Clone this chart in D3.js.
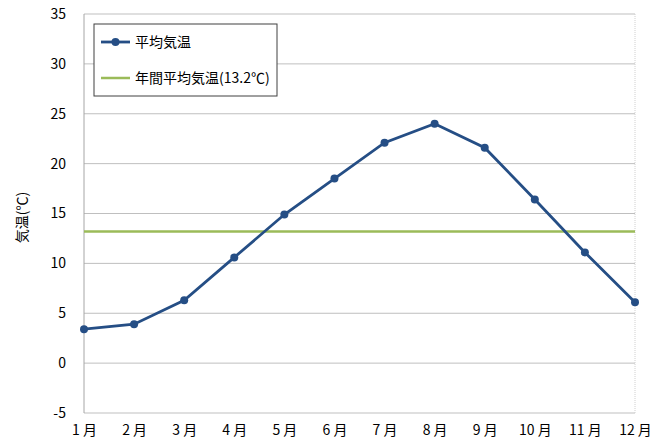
<!DOCTYPE html>
<html lang="ja">
<head>
<meta charset="UTF-8">
<title>平均気温</title>
<script src="https://d3js.org/d3.v7.min.js"></script>
<style>
  body { margin: 0; background: #fff; font-family: "Noto Sans CJK JP", "Noto Sans", sans-serif; }
  svg text { fill: #000; }
</style>
</head>
<body>
<svg width="651" height="443"></svg>
<script>
// データ
const months = ["1月", "2月", "3月", "4月", "5月", "6月", "7月", "8月", "9月", "10月", "11月", "12月"];
const avgTemp = [3.4, 3.9, 6.3, 10.6, 14.9, 18.5, 22.1, 24.0, 21.6, 16.4, 11.1, 6.1];
const annualMean = 13.2;
const yTicks = [-5, 0, 5, 10, 15, 20, 25, 30, 35];
const seriesNames = ["平均気温", "年間平均気温(13.2℃)"];

const svg = d3.select("svg"),
      margin = {top: 14, right: 16, bottom: 30, left: 84},
      width = +svg.attr("width") - margin.left - margin.right,
      height = +svg.attr("height") - margin.top - margin.bottom;

const g = svg.append("g").attr("transform", `translate(${margin.left},${margin.top})`);

const x = d3.scalePoint().domain(months).range([0, width]);
const y = d3.scaleLinear().domain([-5, 35]).range([height, 0]);

// グリッド線
g.append("g")
  .selectAll("line")
  .data(yTicks)
  .enter().append("line")
  .attr("x1", 0).attr("x2", width)
  .attr("y1", d => y(d)).attr("y2", d => y(d))
  .attr("stroke", "#bfbfbf").attr("stroke-width", 1);

// 枠線
g.append("line").attr("x1", width).attr("x2", width).attr("y1", 0).attr("y2", height)
  .attr("stroke", "#d0d0d0").attr("stroke-dasharray", "1,1");
g.append("line").attr("x1", 0).attr("x2", 0).attr("y1", 0).attr("y2", height)
  .attr("stroke", "#a6a6a6");

// y軸
const yAxis = g.append("g")
  .call(d3.axisLeft(y).tickValues(yTicks).tickSize(0).tickPadding(18).tickFormat(d => String(d)));
yAxis.select(".domain").remove();
yAxis.selectAll("text").attr("font-size", "14px").attr("font-family", "Noto Sans CJK JP");

// x軸
const xAxis = g.append("g")
  .attr("transform", `translate(0,${height})`)
  .call(d3.axisBottom(x).tickSize(0).tickPadding(12).tickFormat(d => d.replace("月", " 月")));
xAxis.select(".domain").remove();
xAxis.selectAll("text").attr("font-size", "14px").attr("font-family", "Noto Sans CJK JP")
  .style("white-space", "pre");

// y軸ラベル
svg.append("text")
  .attr("transform", `translate(27,${margin.top + y(14.6)}) rotate(-90)`)
  .attr("text-anchor", "middle")
  .attr("font-size", "14px")
  .text("気温(℃)");

// 年間平均線
g.append("line")
  .attr("x1", 0).attr("x2", width)
  .attr("y1", y(annualMean)).attr("y2", y(annualMean))
  .attr("stroke", "#9bbb59").attr("stroke-width", 2.5);

// 平均気温の折れ線
const line = d3.line().x((d, i) => x(months[i])).y(d => y(d));
g.append("path")
  .datum(avgTemp)
  .attr("fill", "none")
  .attr("stroke", "#254e85")
  .attr("stroke-width", 2.8)
  .attr("d", line);

g.selectAll(".dot")
  .data(avgTemp)
  .enter().append("circle")
  .attr("class", "dot")
  .attr("cx", (d, i) => x(months[i]))
  .attr("cy", d => y(d))
  .attr("r", 4)
  .attr("fill", "#254e85");

// 凡例
const lg = svg.append("g").attr("transform", "translate(94,24)");
lg.append("rect")
  .attr("width", 183).attr("height", 72)
  .attr("fill", "#fff").attr("stroke", "#404040").attr("stroke-width", 1);
lg.append("line").attr("x1", 7).attr("x2", 36).attr("y1", 18).attr("y2", 18)
  .attr("stroke", "#254e85").attr("stroke-width", 2.8);
lg.append("circle").attr("cx", 21.5).attr("cy", 18).attr("r", 4).attr("fill", "#254e85");
lg.append("line").attr("x1", 7).attr("x2", 36).attr("y1", 54).attr("y2", 54)
  .attr("stroke", "#9bbb59").attr("stroke-width", 2.5);
lg.selectAll(".lgtext")
  .data(seriesNames)
  .enter().append("text")
  .attr("x", 41)
  .attr("y", (d, i) => 18 + i * 36)
  .attr("dy", "0.35em")
  .attr("font-size", "14px")
  .text(d => d);
</script>
</body>
</html>
